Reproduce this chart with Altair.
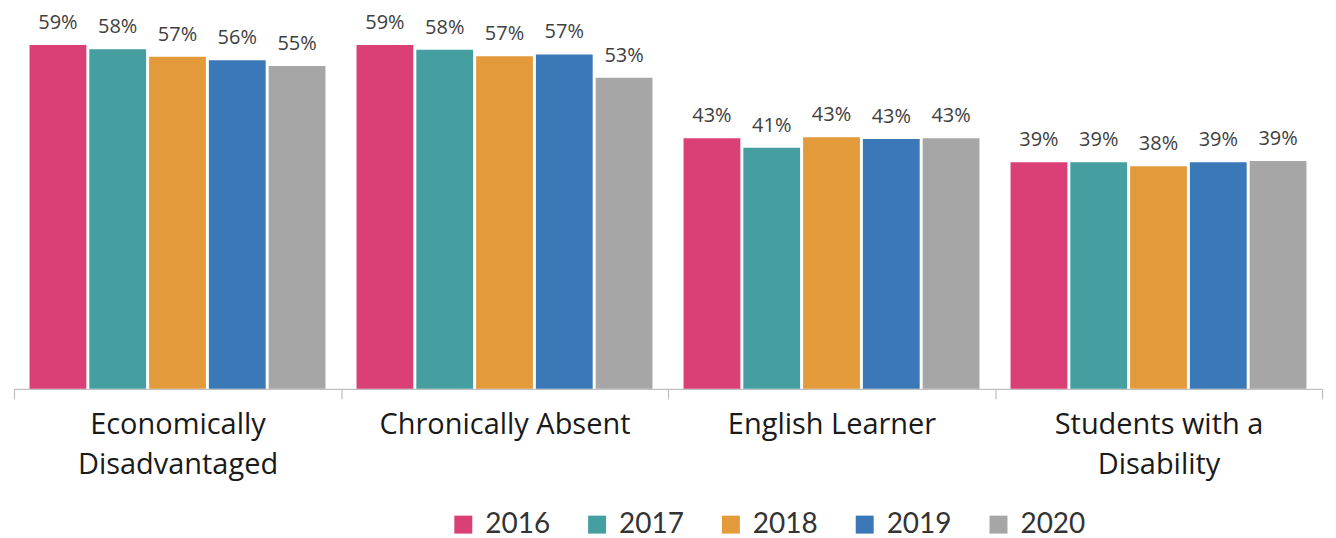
import altair as alt
import pandas as pd

categories = ["Economically Disadvantaged", "Chronically Absent", "English Learner", "Students with a Disability"]
years = ["2016", "2017", "2018", "2019", "2020"]
v2016 = [59.0, 59.0, 43.0, 38.9]
v2017 = [58.3, 58.2, 41.4, 38.9]
v2018 = [57.0, 57.1, 43.2, 38.2]
v2019 = [56.4, 57.4, 42.9, 38.9]
v2020 = [55.4, 53.4, 43.0, 39.1]
colors = ["#DA3F76", "#459E9F", "#E39A3B", "#3A78B8", "#A6A6A6"]

series = [v2016, v2017, v2018, v2019, v2020]
rows = []
for y, vals in zip(years, series):
    for c, v in zip(categories, vals):
        rows.append({"category": c, "year": y, "value": v})
df = pd.DataFrame(rows)

label_expr = ("datum.label == 'Economically Disadvantaged' ? ['Economically', 'Disadvantaged'] : "
              "datum.label == 'Students with a Disability' ? ['Students with a', 'Disability'] : datum.label")

x = alt.X("category:N", sort=categories, title=None,
          scale=alt.Scale(paddingInner=0, paddingOuter=0),
          axis=alt.Axis(labelExpr=label_expr, labelAngle=0, labelFont="Open Sans", labelFontSize=29,
                        labelColor="#1a1a1a", labelPadding=12, labelLineHeight=40, labelBaseline="top",
                        labelLimit=0,
                        tickBand="extent", tickSize=10, tickColor="#bfbfbf", domainColor="#bfbfbf",
                        domainWidth=1.2, tickWidth=1.2, grid=False))
xo = alt.XOffset("year:N", sort=years, scale=alt.Scale(paddingInner=0.05, paddingOuter=0.26))
yenc = alt.Y("value:Q", scale=alt.Scale(domain=[0, 65.3]), axis=None)

base = alt.Chart(df).encode(x=x, xOffset=xo, y=yenc)

bars = base.mark_bar().encode(
    color=alt.Color("year:N", sort=years, scale=alt.Scale(domain=years, range=colors),
                    legend=alt.Legend(title=None, orient="none", legendX=436, legendY=503,
                                      direction="horizontal", columns=5, symbolType="square",
                                      symbolSize=324, symbolStrokeWidth=0, symbolOpacity=1,
                                      labelFont="Lato", labelFontSize=28, labelColor="#333333",
                                      labelOffset=8, columnPadding=33))
)

text = base.mark_text(baseline="bottom", dy=-12, font="Open Sans", fontSize=20, color="#404040").transform_calculate(
    label="format(datum.value, '.0f') + '%'"
).encode(text="label:N")

chart = alt.layer(bars, text).properties(
    width=1310, height=381,
    padding={"left": 5, "top": 0, "right": 5, "bottom": 0}
).configure_view(stroke=None)

chart.save("out.html", embed_options={"renderer": "svg", "actions": False})
